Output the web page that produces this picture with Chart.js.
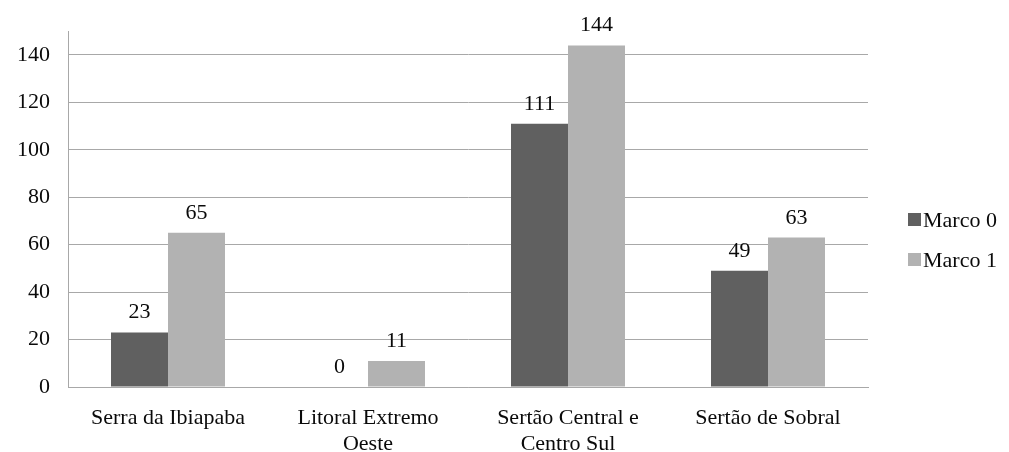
<!DOCTYPE html>
<html>
<head>
<meta charset="utf-8">
<script src="https://cdn.jsdelivr.net/npm/chart.js@4/dist/chart.umd.min.js"></script>
<style>
  html, body { margin: 0; padding: 0; background: #ffffff; }
  #wrap { width: 1009px; height: 452px; }
</style>
</head>
<body>
<div id="wrap"><canvas id="grafico" width="1009" height="452"></canvas></div>
<script>
// Regiões (rótulos em duas linhas quando necessário)
const regioes = [
  ['Serra da Ibiapaba'],
  ['Litoral Extremo', 'Oeste'],
  ['Sertão Central e', 'Centro Sul'],
  ['Sertão de Sobral']
];
const marco0 = [23, 0, 111, 49];
const marco1 = [65, 11, 144, 63];
const nomesSeries = ['Marco 0', 'Marco 1'];
const coresSeries = ['#606060', '#b2b2b2'];
const marcasY = [0, 20, 40, 60, 80, 100, 120, 140];
const eixoYMax = 150;

const FONTE = '"Liberation Serif", "Times New Roman", serif';
const COR_GRADE = '#a8a8a8';
const COR_TEXTO = '#0a0a0a';

// Valores escritos acima de cada barra
const rotulosValores = {
  id: 'rotulosValores',
  afterDatasetsDraw(chart) {
    const ctx = chart.ctx;
    ctx.save();
    ctx.font = '22px ' + FONTE;
    ctx.fillStyle = COR_TEXTO;
    ctx.textAlign = 'center';
    ctx.textBaseline = 'alphabetic';
    chart.data.datasets.forEach((ds, i) => {
      const meta = chart.getDatasetMeta(i);
      meta.data.forEach((bar, j) => {
        ctx.fillText(String(ds.data[j]), bar.x, bar.y - 14);
      });
    });
    ctx.restore();
  }
};

// Legenda à direita da área do gráfico
const legendaLateral = {
  id: 'legendaLateral',
  afterDraw(chart) {
    const ctx = chart.ctx;
    const x0 = chart.chartArea.right + 40;
    const centros = [220, 260];
    ctx.save();
    ctx.font = '22px ' + FONTE;
    ctx.textAlign = 'left';
    ctx.textBaseline = 'middle';
    chart.data.datasets.forEach((ds, i) => {
      const cy = centros[i];
      ctx.fillStyle = ds.backgroundColor;
      ctx.fillRect(x0, cy - 7, 13, 13);
      ctx.fillStyle = COR_TEXTO;
      ctx.fillText(ds.label, x0 + 15, cy + 1);
    });
    ctx.restore();
  }
};

new Chart(document.getElementById('grafico'), {
  type: 'bar',
  data: {
    labels: regioes,
    datasets: [
      { label: nomesSeries[0], data: marco0, backgroundColor: coresSeries[0] },
      { label: nomesSeries[1], data: marco1, backgroundColor: coresSeries[1] }
    ]
  },
  options: {
    responsive: false,
    animation: false,
    events: [],
    layout: { padding: { top: 31, right: 141, bottom: 0, left: 0 } },
    datasets: {
      bar: { categoryPercentage: 0.57, barPercentage: 1.0, borderWidth: 0 }
    },
    plugins: {
      legend: { display: false },
      tooltip: { enabled: false }
    },
    scales: {
      x: {
        grid: { display: false, drawTicks: false },
        border: { display: true, color: COR_GRADE, width: 1 },
        ticks: {
          color: COR_TEXTO,
          padding: 18,
          maxRotation: 0,
          autoSkip: false,
          font: { family: FONTE, size: 22, lineHeight: 1.2 }
        },
        afterFit(scale) { scale.height = 65; }
      },
      y: {
        min: 0,
        max: eixoYMax,
        grid: { drawTicks: false, color: COR_GRADE, lineWidth: 1 },
        border: { display: true, color: COR_GRADE, width: 1 },
        ticks: {
          color: COR_TEXTO,
          padding: 18,
          font: { family: FONTE, size: 22 }
        },
        afterBuildTicks(scale) {
          scale.ticks = marcasY.map((v) => ({ value: v }));
        },
        afterFit(scale) { scale.width = 68; }
      }
    }
  },
  plugins: [rotulosValores, legendaLateral]
});
</script>
</body>
</html>
